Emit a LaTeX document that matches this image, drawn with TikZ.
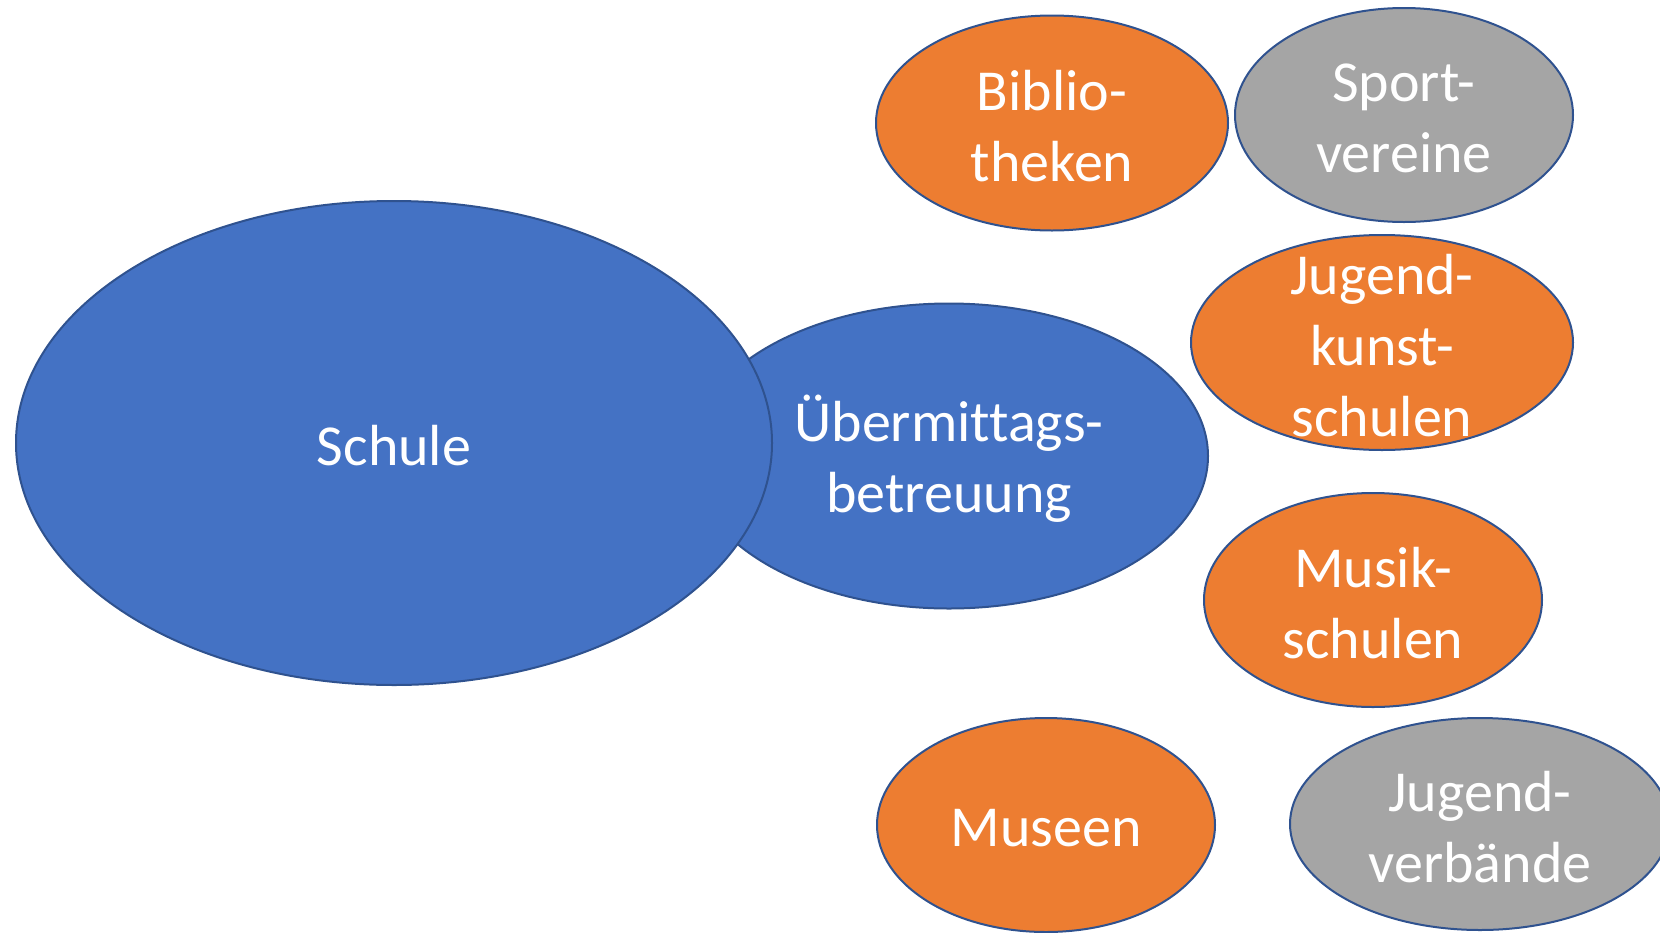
\documentclass[tikz,border=0pt]{standalone}
\usepackage{fontspec}
\setmainfont[Ligatures={NoCommon}]{Carlito}
\usetikzlibrary{shapes.geometric}
\definecolor{cblue}{HTML}{4472C4}
\definecolor{corange}{HTML}{ED7D31}
\definecolor{cgray}{HTML}{A5A5A5}
\definecolor{cborder}{HTML}{2F528F}
\tikzset{
  bub/.style={ellipse, draw=cborder, line width=1pt, inner sep=0pt},
  bluebub/.style={bub, fill=cblue},
  orangebub/.style={bub, fill=corange},
  graybub/.style={bub, fill=cgray},
  txt/.style={text=white, inner sep=0pt, align=center, yshift=-1.5pt,
    font=\fontsize{29}{35.4}\selectfont}
}
\begin{document}
\begin{tikzpicture}[x=0.5pt,y=-0.5pt]
\useasboundingbox (0,0) rectangle (1660,932);
\node[bluebub, minimum width=259pt, minimum height=152.5pt] (ueber) at (949,456) {};
\node[txt] (ueber-t) at (ueber.center) {Übermittags-\\betreuung};
\node[bluebub, minimum width=378pt, minimum height=242pt] (schule) at (394,443) {};
\node[txt] (schule-t) at (schule.center) {Schule};
\node[orangebub, minimum width=176pt, minimum height=107.5pt] (biblio) at (1052,123) {};
\node[txt] (biblio-t) at (biblio.center) {Biblio-\\theken};
\node[graybub, minimum width=169pt, minimum height=107pt] (sport) at (1404,115) {};
\node[txt] (sport-t) at (sport.center) {Sport-\\vereine};
\node[orangebub, minimum width=191pt, minimum height=107.5pt] (jks) at (1382,342.5) {};
\node[txt] (jks-t) at (jks.center) {Jugend-\\kunst-\\schulen};
\node[orangebub, minimum width=169pt, minimum height=107pt] (musik) at (1373,600) {};
\node[txt] (musik-t) at (musik.center) {Musik-\\schulen};
\node[orangebub, minimum width=169pt, minimum height=107pt] (museen) at (1046,825) {};
\node[txt] (museen-t) at (museen.center) {Museen};
\node[graybub, minimum width=190pt, minimum height=106pt] (jv) at (1480,824) {};
\node[txt] (jv-t) at (jv.center) {Jugend-\\verbände};
\end{tikzpicture}
\end{document}
